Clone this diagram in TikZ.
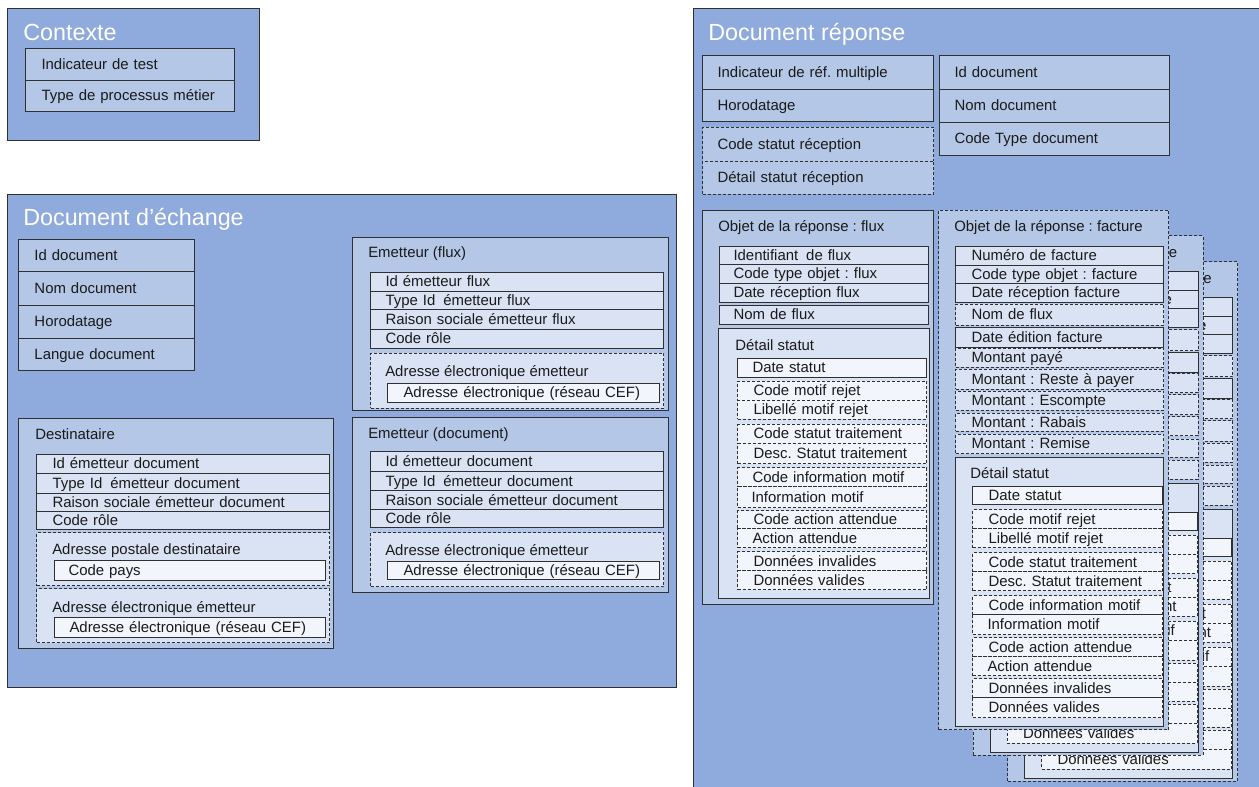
\documentclass[tikz,border=0pt]{standalone}
\usepackage{fontspec}
\setmainfont{Liberation Sans}
\frenchspacing
\definecolor{outerblue}{HTML}{8FAADC}
\definecolor{rowblue}{HTML}{B4C7E7}
\definecolor{lightblue}{HTML}{DAE3F3}
\definecolor{paleblue}{HTML}{F2F5FB}
\definecolor{linec}{HTML}{303030}
\definecolor{txt}{HTML}{1A1A1A}
\newdimen\pxu \pxu=0.75pt
\tikzset{
  big/.style={font=\fontsize{17.5}{20}\selectfont, text=white, text height=12.6pt, text depth=0pt},
  sub/.style={font=\fontsize{11.2}{13}\selectfont\frenchspacing, text=txt, text height=8pt, text depth=0.5pt},
  outerbox/.style={fill=outerblue, draw=linec, line width=0.8pt},
  rowbox/.style={fill=rowblue, draw=linec, line width=0.75pt, sub},
  lightbox/.style={fill=lightblue, draw=linec, line width=0.75pt, sub},
  palebox/.style={fill=paleblue, draw=linec, line width=0.75pt, sub},
  dsh/.style={dash pattern=on 2.25pt off 1.5pt},
}
% #1 name, #2 style, #3 x1, #4 y1, #5 x2, #6 y2, #7 indent (px), #8 text
\newcommand\bx[8]{%
  \pgfmathsetlengthmacro\bxw{(#5-(#3))*0.75pt}%
  \pgfmathsetlengthmacro\bxh{(#6-(#4))*0.75pt}%
  \node[#2, anchor=north west, inner sep=0pt, text width=\bxw, minimum height=\bxh, align=left]
    (#1) at (#3,#4) {\hspace*{#7\pxu}\mbox{#8}};}
% #1 name, #2 style, #3 position, #4 text
\newcommand\ttl[4]{\node[#2, anchor=west, inner sep=0pt] (#1) at (#3) {#4};}
% facture block: #1 suffix, #2 dx, #3 dy
\newcommand\facture[3]{%
  \def\fdx{#2}\def\fdy{#3}%
  \bx{fac#1}{rowbox,dsh}{938+\fdx}{210+\fdy}{1168+\fdx}{729+\fdy}{0}{}
  \ttl{fac#1t}{sub}{954+\fdx,227+\fdy}{Objet de la réponse : facture}
  \bx{fac#1a}{lightbox}{955+\fdx}{246+\fdy}{1163+\fdx}{265+\fdy}{16}{Numéro de facture}
  \bx{fac#1b}{lightbox}{955+\fdx}{265+\fdy}{1163+\fdx}{283+\fdy}{16}{Code type objet : facture}
  \bx{fac#1c}{lightbox}{955+\fdx}{283+\fdy}{1163+\fdx}{302+\fdy}{16}{Date réception facture}
  \bx{fac#1d}{lightbox,dsh}{955+\fdx}{304+\fdy}{1163+\fdx}{325+\fdy}{16}{Nom de flux}
  \bx{fac#1e}{lightbox}{955+\fdx}{327+\fdy}{1163+\fdx}{347+\fdy}{16}{Date édition facture}
  \bx{fac#1f}{lightbox,dsh}{955+\fdx}{348+\fdy}{1163+\fdx}{367+\fdy}{16}{Montant payé}
  \bx{fac#1g}{lightbox,dsh}{955+\fdx}{369+\fdy}{1163+\fdx}{389+\fdy}{16}{Montant : Reste à payer}
  \bx{fac#1h}{lightbox,dsh}{955+\fdx}{391+\fdy}{1163+\fdx}{410+\fdy}{16}{Montant : Escompte}
  \bx{fac#1i}{lightbox,dsh}{955+\fdx}{413+\fdy}{1163+\fdx}{431+\fdy}{16}{Montant : Rabais}
  \bx{fac#1j}{lightbox,dsh}{955+\fdx}{434+\fdy}{1163+\fdx}{453+\fdy}{16}{Montant : Remise}
  \bx{fac#1ds}{lightbox}{955+\fdx}{457+\fdy}{1163+\fdx}{726+\fdy}{0}{}
  \ttl{fac#1dst}{sub}{970+\fdx,473+\fdy}{Détail statut}
  \bx{fac#1s0}{palebox}{972+\fdx}{486+\fdy}{1162+\fdx}{504+\fdy}{16}{Date statut}
  \bx{fac#1s1}{palebox,dsh}{972+\fdx}{509+\fdy}{1162+\fdx}{528+\fdy}{16}{Code motif rejet}
  \bx{fac#1s2}{palebox,dsh}{972+\fdx}{528+\fdy}{1162+\fdx}{547+\fdy}{16}{Libellé motif rejet}
  \bx{fac#1s3}{palebox,dsh}{972+\fdx}{552+\fdy}{1162+\fdx}{571+\fdy}{16}{Code statut traitement}
  \bx{fac#1s4}{palebox,dsh}{972+\fdx}{571+\fdy}{1162+\fdx}{590+\fdy}{16}{Desc. Statut traitement}
  \bx{fac#1s5}{palebox,dsh}{972+\fdx}{595+\fdy}{1162+\fdx}{614+\fdy}{16}{Code information motif}
  \bx{fac#1s6}{palebox,dsh}{972+\fdx}{614+\fdy}{1162+\fdx}{634+\fdy}{15}{Information motif}
  \bx{fac#1s7}{palebox,dsh}{972+\fdx}{637+\fdy}{1162+\fdx}{656+\fdy}{16}{Code action attendue}
  \bx{fac#1s8}{palebox,dsh}{972+\fdx}{656+\fdy}{1162+\fdx}{675+\fdy}{15}{Action attendue}
  \bx{fac#1s9}{palebox,dsh}{972+\fdx}{678+\fdy}{1162+\fdx}{697+\fdy}{16}{Données invalides}
  \bx{fac#1s10}{palebox,dsh}{972+\fdx}{697+\fdy}{1162+\fdx}{717+\fdy}{16}{Données valides}
}
\begin{document}
\begin{tikzpicture}[x=0.75pt,y=-0.75pt]
\useasboundingbox (0,0) rectangle (1259,787);
\fill[white] (0,0) rectangle (1259,787);
\begin{scope}
\clip (0,0) rectangle (1259,787);
% ---------------- Contexte
\bx{ctx}{outerbox}{7}{8}{259}{140}{0}{}
\ttl{ctxt}{big}{23,32}{Contexte}
\bx{ctx1}{rowbox}{25}{48}{234}{80}{16}{Indicateur de test}
\bx{ctx2}{rowbox}{25}{80}{234}{111}{16}{Type de processus métier}
% ---------------- Document d'échange
\bx{dex}{outerbox}{7}{194}{676}{687}{0}{}
\ttl{dext}{big}{23,217}{Document d’échange}
\bx{dex1}{rowbox}{18}{239}{194}{271}{16}{Id document}
\bx{dex2}{rowbox}{18}{271}{194}{305}{16}{Nom document}
\bx{dex3}{rowbox}{18}{305}{194}{338}{16}{Horodatage}
\bx{dex4}{rowbox}{18}{338}{194}{370}{16}{Langue document}
% Destinataire
\bx{dst}{rowbox}{18}{418}{333}{648}{0}{}
\ttl{dstt}{sub}{35,435}{Destinataire}
\bx{dst1}{lightbox}{36}{454}{329}{473}{16}{Id émetteur document}
\bx{dst2}{lightbox}{36}{473}{329}{493}{16}{Type Id\hspace{0.2em} émetteur document}
\bx{dst3}{lightbox}{36}{493}{329}{511}{16}{Raison sociale émetteur document}
\bx{dst4}{lightbox}{36}{511}{329}{529}{16}{Code rôle}
\bx{dsta}{lightbox,dsh}{36}{532}{329}{585}{0}{}
\ttl{dstat}{sub}{52,549}{Adresse postale destinataire}
\bx{dstb}{palebox}{54}{560}{325}{580}{14}{Code pays}
\bx{dstc}{lightbox,dsh}{36}{588}{329}{642}{0}{}
\ttl{dstct}{sub}{52,607}{Adresse électronique émetteur}
\bx{dstd}{palebox}{54}{617}{325}{637}{15}{Adresse électronique (réseau CEF)}
% Emetteur (flux)
\bx{emf}{rowbox}{352}{237}{668}{410}{0}{}
\ttl{emft}{sub}{368,253}{Emetteur (flux)}
\bx{emf1}{lightbox}{370}{272}{663}{291}{15}{Id émetteur flux}
\bx{emf2}{lightbox}{370}{291}{663}{309}{15}{Type Id\hspace{0.2em} émetteur flux}
\bx{emf3}{lightbox}{370}{309}{663}{329}{15}{Raison sociale émetteur flux}
\bx{emf4}{lightbox}{370}{329}{663}{348}{15}{Code rôle}
\bx{emfa}{lightbox,dsh}{370}{353}{663}{408}{0}{}
\ttl{emfat}{sub}{385,372}{Adresse électronique émetteur}
\bx{emfb}{palebox}{387}{383}{659}{402}{16}{Adresse électronique (réseau CEF)}
% Emetteur (document)
\bx{emd}{rowbox}{352}{417}{668}{592}{0}{}
\ttl{emdt}{sub}{368,433}{Emetteur (document)}
\bx{emd1}{lightbox}{370}{451}{663}{471}{15}{Id émetteur document}
\bx{emd2}{lightbox}{370}{471}{663}{490}{15}{Type Id\hspace{0.2em} émetteur document}
\bx{emd3}{lightbox}{370}{490}{663}{509}{15}{Raison sociale émetteur document}
\bx{emd4}{lightbox}{370}{509}{663}{527}{15}{Code rôle}
\bx{emda}{lightbox,dsh}{370}{532}{663}{586}{0}{}
\ttl{emdat}{sub}{385,550}{Adresse électronique émetteur}
\bx{emdb}{palebox}{387}{561}{659}{579}{16}{Adresse électronique (réseau CEF)}
% ---------------- Document réponse
\bx{rep}{outerbox}{693}{8}{1275}{800}{0}{}
\ttl{rept}{big}{708,32}{Document réponse}
\bx{rep1}{rowbox}{702}{55}{933}{89}{15}{Indicateur de réf. multiple}
\bx{rep2}{rowbox}{702}{89}{933}{121}{15}{Horodatage}
\bx{rep3}{rowbox,dsh}{702}{127}{933}{161}{15}{Code statut réception}
\bx{rep4}{rowbox,dsh}{702}{161}{933}{194}{15}{Détail statut réception}
\bx{rep5}{rowbox}{939}{55}{1169}{89}{15}{Id document}
\bx{rep6}{rowbox}{939}{89}{1169}{122}{15}{Nom document}
\bx{rep7}{rowbox}{939}{122}{1169}{155}{15}{Code Type document}
% Objet flux
\bx{flx}{rowbox}{702}{210}{933}{604}{0}{}
\ttl{flxt}{sub}{718,227}{Objet de la réponse : flux}
\bx{flx1}{lightbox}{719}{246}{928}{264}{14}{Identifiant\hspace{0.2em} de flux}
\bx{flx2}{lightbox}{719}{264}{928}{283}{14}{Code type objet : flux}
\bx{flx3}{lightbox}{719}{283}{928}{302}{14}{Date réception flux}
\bx{flx4}{lightbox}{719}{305}{928}{324}{14}{Nom de flux}
\bx{flxd}{lightbox}{718}{328}{929}{598}{0}{}
\ttl{flxdt}{sub}{735,346}{Détail statut}
\bx{flxs0}{palebox}{737}{358}{926}{377}{15}{Date statut}
\bx{flxs1}{palebox,dsh}{737}{381}{926}{400}{16}{Code motif rejet}
\bx{flxs2}{palebox,dsh}{737}{400}{926}{419}{16}{Libellé motif rejet}
\bx{flxs3}{palebox,dsh}{737}{424}{926}{443}{16}{Code statut traitement}
\bx{flxs4}{palebox,dsh}{737}{443}{926}{463}{16}{Desc. Statut traitement}
\bx{flxs5}{palebox,dsh}{737}{467}{926}{486}{15}{Code information motif}
\bx{flxs6}{palebox,dsh}{737}{486}{926}{507}{14}{Information motif}
\bx{flxs7}{palebox,dsh}{737}{510}{926}{528}{16}{Code action attendue}
\bx{flxs8}{palebox,dsh}{737}{528}{926}{547}{15}{Action attendue}
\bx{flxs9}{palebox,dsh}{737}{551}{926}{570}{16}{Données invalides}
\bx{flxs10}{palebox,dsh}{737}{570}{926}{589}{16}{Données valides}
% Objet facture (stacked copies, back to front)
\facture{c}{69}{51.5}
\facture{b}{34.5}{25.5}
\facture{a}{0}{0}
\end{scope}
\end{tikzpicture}
\end{document}
